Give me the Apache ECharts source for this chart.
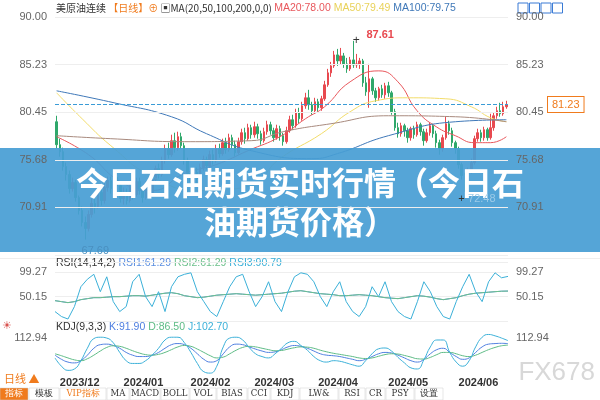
<!DOCTYPE html>
<html><head><meta charset="utf-8">
<script src="https://cdn.jsdelivr.net/npm/echarts@6/dist/echarts.min.js"></script>
<style>html,body{margin:0;padding:0;background:#fff}#c{width:600px;height:400px}</style>
</head><body><div id="c"></div>
<script>
// ---- data ----
const priceTicks = [70.91, 75.68, 80.45, 85.23, 90.00];
const holidays = ['2023-12-25','2024-01-01','2024-01-15','2024-02-19','2024-03-29','2024-05-27','2024-06-19'];
// [open, close, low, high]
const ohlc = [
[79.5,77.2,76.8,80.1],[77.2,76.5,76.0,77.8],[76.5,75.0,74.6,76.9],[75.0,74.2,73.6,75.4],[74.2,72.8,72.3,74.6],
[72.8,73.4,72.5,73.9],[73.4,71.9,71.5,73.7],[71.9,70.6,70.2,72.1],[70.6,69.4,69.0,71.0],[69.4,68.8,67.69,70.0],
[68.8,70.2,68.5,70.6],[70.2,71.3,69.9,71.8],[71.3,71.0,70.3,71.9],[71.0,72.4,70.8,72.9],[72.4,71.6,71.1,72.8],
[71.6,72.9,71.3,73.4],[72.9,73.6,72.5,74.0],[73.6,72.8,72.3,74.0],[72.8,73.9,72.6,74.3],[73.9,73.1,72.7,74.5],
[73.1,71.8,71.4,73.4],[71.8,72.4,71.2,72.9],[72.4,71.6,71.2,72.8],[71.6,72.9,71.4,73.3],[72.9,72.2,71.7,73.4],
[72.2,73.5,72.0,73.9],[73.5,72.6,72.2,73.9],[72.6,71.9,71.4,73.0],[71.9,73.1,71.7,73.5],[73.1,72.4,72.0,73.6],
[72.4,73.7,72.2,74.1],[73.7,74.8,73.4,75.1],[74.8,74.2,73.8,75.3],[74.2,75.6,74.0,76.0],[75.6,76.8,75.3,77.2],
[76.8,76.2,75.8,77.4],[76.2,77.6,76.0,78.2],[77.6,76.9,76.4,78.4],[76.9,78.0,76.6,78.5],[78.0,77.1,76.8,78.4],
[77.1,75.6,75.2,77.4],[75.6,74.3,73.9,75.9],[74.3,73.5,73.0,74.6],[73.5,74.4,73.2,74.8],[74.4,73.8,73.3,74.9],
[73.8,74.9,73.6,75.3],[74.9,75.7,74.6,76.1],[75.7,75.1,74.7,76.0],[75.1,76.2,74.9,76.6],[76.2,75.6,75.2,76.7],
[75.6,76.8,75.4,77.2],[76.8,76.3,75.9,77.3],[76.3,77.4,76.1,77.8],[77.4,76.7,76.3,77.9],[76.7,77.9,76.5,78.3],
[77.9,77.2,76.8,78.2],[77.2,76.4,76.0,77.6],[76.4,77.5,76.2,77.9],[77.5,78.4,77.2,78.8],[78.4,77.8,77.3,78.9],
[77.8,78.9,77.6,79.3],[78.9,78.2,77.8,79.2],[78.2,79.0,77.9,79.5],[79.0,78.3,77.8,79.3],[78.3,77.6,77.2,78.6],
[77.6,78.5,77.4,78.9],[78.5,79.2,78.2,79.6],[79.2,78.6,78.2,79.5],[78.6,77.9,77.5,78.9],[77.9,78.8,77.7,79.2],
[78.8,78.1,77.6,79.1],[78.1,77.5,77.1,78.4],[77.5,78.6,77.3,79.0],[78.6,79.7,78.4,80.1],[79.7,79.1,78.7,80.2],
[79.1,80.4,78.9,80.8],[80.4,79.8,79.3,80.9],[79.8,81.1,79.6,81.5],[81.1,81.9,80.8,82.4],[81.9,81.2,80.7,82.7],
[81.2,80.6,80.2,81.5],[80.6,81.5,80.3,81.9],[81.5,80.9,80.5,81.8],[80.9,81.8,80.6,82.1],[81.8,83.2,81.6,83.6],
[83.2,84.4,83.0,84.8],[84.4,85.1,84.0,85.5],[85.1,86.2,84.9,86.6],[86.2,85.6,85.1,86.8],[85.6,86.1,85.2,86.9],
[86.1,85.3,84.9,86.4],[85.3,84.8,84.4,85.9],[84.8,85.7,84.6,86.0],[85.7,85.2,84.9,87.61],[85.2,85.3,84.9,86.3],
[85.3,85.6,84.8,85.9],[85.6,83.4,83.0,85.8],[83.4,82.5,82.1,84.0],[82.5,83.8,80.9,85.3],[83.8,82.6,82.2,84.0],
[82.6,81.9,81.5,82.9],[81.9,82.8,81.6,83.0],[82.8,82.2,81.9,83.2],[82.2,83.1,81.8,83.4],[83.1,82.4,82.0,83.5],
[82.4,80.5,80.2,82.6],[80.5,78.9,78.6,80.8],[78.9,78.3,77.9,79.4],[78.3,79.1,78.0,79.4],[79.1,78.6,78.0,79.3],
[78.6,77.9,77.4,78.9],[77.9,78.8,77.6,79.0],[78.8,78.2,77.8,79.1],[78.2,79.2,78.0,79.5],[79.2,78.5,78.1,79.4],
[78.5,77.6,77.1,78.8],[77.6,78.4,77.4,78.8],[78.4,79.1,78.1,79.4],[79.1,78.3,77.9,79.3],[78.3,77.4,76.9,78.6],
[77.4,76.8,76.2,77.7],[76.8,77.9,76.5,78.2],[77.9,79.3,77.7,80.0],[79.3,78.6,78.2,79.6],[78.6,77.4,77.0,78.9],
[77.4,76.8,76.3,77.6],[76.8,75.2,74.8,77.0],[75.2,74.1,73.7,75.4],[74.1,73.3,72.48,74.4],[73.3,74.6,73.1,74.9],
[74.6,75.4,74.3,75.8],[75.4,77.8,75.2,78.1],[77.8,78.4,77.5,78.8],[78.4,77.9,77.5,78.7],[77.9,78.7,77.6,79.0],
[78.7,77.9,77.6,78.9],[77.9,78.9,77.7,80.3],[78.9,80.1,78.6,80.4],[80.1,80.6,79.8,81.0],[80.6,80.3,80.0,81.4],
[80.3,81.0,80.1,81.5],[81.0,81.23,80.8,81.6]
];
// moving averages, read at sample points [candle index, value]
const ma20 = [[0,78.0],[10,76.2],[20,73.5],[30,72.6],[40,74.3],[50,75.2],[60,76.6],[70,78.0],[78,79.8],[84,81.0],[92,83.5],[101,84.6],[107,83.5],[113,80.6],[119,79.0],[125,78.1],[131,77.4],[136,77.4],[141,78.0]];
const ma50 = [[0,82.4],[8,79.8],[17,77.1],[30,74.0],[45,72.6],[60,73.0],[70,75.8],[83,78.3],[92,80.5],[100,81.6],[110,81.9],[122,81.8],[130,81.0],[136,79.9],[141,79.5]];
const ma100 = [[0,82.6],[18,81.4],[36,80.0],[47,78.3],[61,76.6],[80,75.8],[88,76.3],[104,78.1],[125,79.5],[141,79.7]];
const ma200 = [[0,78.1],[17,77.8],[40,77.5],[61,77.6],[71,78.5],[86,79.3],[104,80.1],[125,80.0],[141,79.5]];
const rsi2 = [42,40,38,40,44,46,48,48,49,50,50,51,52,52,51,53,55,57,58,56,52,50,48,49,51,53,54,55,56,55,54,53,54,55,56,57,59,61,62,60,58,56,55,54,52,52,53,54,53,52,50,48,47,46,48,50,52,51,49,46,44,46,48,52,55,57,58,59,60,61,61.29];
const rsi3 = [20,10,5,30,70,85,95,60,90,40,20,30,80,95,50,30,60,20,70,90,95,98,60,40,20,10,40,70,90,95,60,30,50,80,40,20,60,90,98,95,80,50,30,60,80,40,20,10,30,70,50,80,40,20,10,5,40,80,60,30,10,5,40,70,95,60,40,80,98,88,90.79];
const kK = [50,35,25,22,30,50,75,88,90,85,75,60,50,45,45,50,60,75,88,92,88,75,55,35,25,30,55,80,90,88,80,72,65,60,62,70,80,85,82,75,65,55,50,48,45,40,35,30,35,45,55,60,58,50,40,30,25,35,55,70,75,60,45,35,40,60,80,90,92,93,91.9];
const kD = [55,48,40,33,30,37,50,65,78,84,82,75,66,58,52,50,53,60,70,80,85,82,72,60,48,40,43,55,68,78,82,80,75,70,66,67,72,77,80,79,75,68,62,57,53,49,45,40,38,40,46,52,55,54,49,43,37,36,42,52,60,60,55,48,45,50,60,70,78,84,86.5];
const kJ = [40,10,-5,0,30,75,110,115,112,95,60,30,20,20,30,50,75,105,115,115,95,60,20,-10,-15,10,80,112,115,105,78,55,45,40,55,75,95,100,85,68,45,30,25,30,28,22,15,10,30,55,73,76,65,42,22,4,0,33,80,105,105,60,25,10,30,80,115,125,120,112,102.7];
const toolbar = ['指标','模板','VIP指标','MA','MACD','BOLL','VOL','BIAS','CCI','KDJ','LW&','RSI','CR','PSY','设置'];
const toolbarW = [28,30,46,22,30,28,26,30,22,28,38,26,19,28,28];

// trading dates
const dates = [];
{ let d = new Date(Date.UTC(2023,10,30));
  while (dates.length < ohlc.length) {
    const wd = d.getUTCDay(); const s = d.toISOString().slice(0,10);
    if (wd !== 0 && wd !== 6 && holidays.indexOf(s) < 0) dates.push(s);
    d = new Date(d.getTime() + 86400000);
  } }
const idx = Array.from({length: rsi2.length}, (_, i) => i);
const monthStart = dates.map((s, i) => i > 0 && s.slice(5,7) !== dates[i-1].slice(5,7));

const chart = echarts.init(document.getElementById('c'));
const font = 'Liberation Sans, Arial, sans-serif';
const L = 55, R = 92;
function nearestLabel(v, arr){ let b = arr[0]; arr.forEach(a => { if (Math.abs(a - v) < Math.abs(b - v)) b = a; }); return Math.abs(b - v) < 0.05 ? b.toFixed(2) : ''; }
const priceAxisLabel = { color:'#666', fontSize:11, fontFamily:font, formatter: v => nearestLabel(v, priceTicks) };
const maLine = (name, data, color) => ({ name, type:'line', data, xAxisIndex:0, yAxisIndex:0, smooth:true, showSymbol:false, symbol:'none', lineStyle:{ color, width:1 }, silent:true, z:3 });

// toolbar graphics
const tb = []; let tx = 0;
toolbar.forEach((t, i) => {
  const w = toolbarW[i];
  tb.push({ type:'rect', shape:{ x:tx, y:388, width:w, height:12 }, style:{ fill: i===0 ? '#f07b1d' : '#fff', stroke:'#ccc', lineWidth:0.5 } });
  tb.push({ type:'text', x:tx + w/2, y:394, style:{ text:t, fill: i===0 ? '#fff' : (i===2 ? '#f07b1d' : '#333'), font:'8.5px "DejaVu Serif", serif', align:'center', verticalAlign:'middle' } });
  tx += w + 1;
});

chart.setOption({
  animation:false,
  grid:[
    { left:L, right:R, top:17, height:238 },
    { left:L, right:R, top:262, height:59 },
    { left:L, right:R, top:324, height:69 },
    { left:L, right:R, top:372, height:1 }
  ],
  xAxis:[
    { type:'category', data:dates, gridIndex:0, show:false, boundaryGap:true },
    { type:'category', data:idx, gridIndex:1, show:false, boundaryGap:false },
    { type:'category', data:idx, gridIndex:2, show:false, boundaryGap:false },
    { type:'category', data:dates, gridIndex:3, boundaryGap:true, axisLine:{show:false}, axisTick:{show:false},
      axisLabel:{ interval:(i) => monthStart[i] || i===1, formatter: v => v.slice(0,7).replace('-','/'), color:'#333', fontSize:11, fontWeight:'bold', fontFamily:font, align:'left', margin:4 } }
  ],
  yAxis:[
    { type:'value', gridIndex:0, min:66.14, max:90, interval:4.77, position:'left', axisLine:{show:false}, axisTick:{show:false}, z:20,
      splitLine:{ lineStyle:{ color:'#eee' } }, axisLabel:priceAxisLabel },
    { type:'value', gridIndex:1, min:1.03, max:119.77, interval:49.12, axisLine:{show:false}, axisTick:{show:false},
      splitLine:{ lineStyle:{ color:'#eee' } }, axisLabel:{ showMaxLabel:false, showMinLabel:false, color:'#666', fontSize:11, fontFamily:font, formatter:v=>v.toFixed(2) } },
    { type:'value', gridIndex:2, min:-87.06, max:162.94, interval:50, axisLine:{show:false}, axisTick:{show:false},
      splitLine:{ show:false }, axisLabel:{ color:'#666', fontSize:11, fontFamily:font, formatter:v=>Math.abs(v-112.94)<0.01?'112.94':'' } },
    { type:'value', gridIndex:3, show:false },
    { type:'value', gridIndex:0, min:66.14, max:90, interval:4.77, position:'right', axisLine:{show:false}, axisTick:{show:false}, splitLine:{show:false}, z:20, axisLabel:priceAxisLabel },
    { type:'value', gridIndex:1, min:1.03, max:119.77, interval:49.12, position:'right', axisLine:{show:false}, axisTick:{show:false}, splitLine:{show:false},
      axisLabel:{ showMaxLabel:false, showMinLabel:false, color:'#666', fontSize:11, fontFamily:font, formatter:v=>v.toFixed(2) } },
    { type:'value', gridIndex:2, min:-87.06, max:162.94, interval:50, position:'right', axisLine:{show:false}, axisTick:{show:false}, splitLine:{show:false},
      axisLabel:{ color:'#666', fontSize:11, fontFamily:font, formatter:v=>Math.abs(v-112.94)<0.01?'112.94':'' } }
  ],
  series:[
    { type:'candlestick', data:ohlc, xAxisIndex:0, yAxisIndex:0, barWidth:2, z:2,
      itemStyle:{ color:'#e8494f', color0:'#2fa86b', borderColor:'#e8494f', borderColor0:'#2fa86b', borderWidth:1 },
      markLine:{ symbol:'none', silent:true, data:[{ yAxis:81.23 }], lineStyle:{ color:'#3a9bd6', type:'dashed', width:1 },
        label:{ position:'end', distance:40, formatter:'81.23', color:'#f07b1d', fontSize:11, fontFamily:font, borderColor:'#f07b1d', borderWidth:1, padding:[2,4], backgroundColor:'#fff' } },
      markPoint:{ symbol:'circle', symbolSize:1, silent:true, z:30, itemStyle:{ color:'rgba(0,0,0,0)' }, data:[
        { coord:[93, 87.61], label:{ show:true, position:'right', formatter:'{p|+}  {v|87.61}', rich:{ p:{ color:'#333', fontSize:12 }, v:{ color:'#e8494f', fontSize:11, fontWeight:'bold', padding:[0,0,12,0] } }, offset:[-6,0] } },
        { coord:[9, 67.69], label:{ show:true, position:'bottom', formatter:'{v|67.69}', rich:{ v:{ color:'#4a90c0', fontSize:11, padding:[0,0,0,20] } } } },
        { coord:[128, 72.48], label:{ show:true, position:'bottom', formatter:'{p|+} {v|72.48}', rich:{ p:{ color:'#333', fontSize:11 }, v:{ color:'#9ccbe8', fontSize:11 } }, offset:[12,-4] } }
      ] } },
    maLine('MA20', ma20, '#e8575c'),
    maLine('MA50', ma50, '#f2dc6a'),
    maLine('MA100', ma100, '#3f78b8'),
    maLine('MA200', ma200, '#a88a7e'),
    { type:'line', data:rsi2, xAxisIndex:1, yAxisIndex:1, showSymbol:false, lineStyle:{ color:'#5b8fe0', width:1 } },
    { type:'line', data:rsi2, xAxisIndex:1, yAxisIndex:1, showSymbol:false, lineStyle:{ color:'#6cc08b', width:1 } },
    { type:'line', data:rsi3, xAxisIndex:1, yAxisIndex:1, showSymbol:false, lineStyle:{ color:'#3bb0d8', width:1 } },
    { type:'line', data:kK, xAxisIndex:2, yAxisIndex:2, smooth:true, showSymbol:false, lineStyle:{ color:'#4f7fe0', width:1 } },
    { type:'line', data:kD, xAxisIndex:2, yAxisIndex:2, smooth:true, showSymbol:false, lineStyle:{ color:'#5dbb85', width:1 } },
    { type:'line', data:kJ, xAxisIndex:2, yAxisIndex:2, smooth:true, showSymbol:false, lineStyle:{ color:'#3bb0d8', width:1 } }
  ],
  graphic:[
    { type:'text', x:56, y:3, style:{ text:'{a|美原油连续}{o| 【日线】⊕ }{a|▣MA(20,50,100,200,0,0) }{r|MA20:78.00 }{y|MA50:79.49 }{b|MA100:79.75}',
      rich:{ a:{ fill:'#333', fontSize:10, fontFamily:'Noto Sans CJK SC' }, o:{ fill:'#f07b1d', fontSize:10, fontFamily:'Noto Sans CJK SC' },
        r:{ fill:'#e8575c', fontSize:10.5, fontFamily:font }, y:{ fill:'#e9d25a', fontSize:10.5, fontFamily:font }, b:{ fill:'#3f78b8', fontSize:10.5, fontFamily:font } } } },
    { type:'group', children:[0,1,2,3].map(k => ({ type:'rect', shape:{ x:518 + k*11.5, y:3, width:10, height:10 }, style:{ fill:'#fff', stroke:'#3a7bd5', lineWidth:1 } })) },
    { type:'rect', shape:{ x:0, y:258, width:600, height:0.5 }, style:{ fill:'#ddd' } },
    { type:'text', x:56, y:258, style:{ text:'{a|RSI(14,14,2) }{b|RSI1:61.29 }{g|RSI2:61.29 }{c|RSI3:90.79}',
      rich:{ a:{ fill:'#333', fontSize:10.5, fontFamily:font }, b:{ fill:'#5b8fe0', fontSize:10.5, fontFamily:font }, g:{ fill:'#6cc08b', fontSize:10.5, fontFamily:font }, c:{ fill:'#3bb0d8', fontSize:10.5, fontFamily:font } } } },
    { type:'text', x:56, y:322, style:{ text:'{a|KDJ(9,3,3) }{b|K:91.90 }{g|D:86.50 }{c|J:102.70}',
      rich:{ a:{ fill:'#333', fontSize:10.5, fontFamily:font }, b:{ fill:'#4f7fe0', fontSize:10.5, fontFamily:font }, g:{ fill:'#5dbb85', fontSize:10.5, fontFamily:font }, c:{ fill:'#3bb0d8', fontSize:10.5, fontFamily:font } } } },
    { type:'text', x:2, y:320, style:{ text:'☀', fill:'#d9534f', font:'11px sans-serif' } },
    { type:'text', x:4, y:373, style:{ text:'日线 ▲', fill:'#f07b1d', font:'11px "Noto Sans CJK SC"' } },
    { type:'text', x:595, y:360, style:{ text:'FX678', fill:'#d8d8d8', font:'26px "Liberation Sans"', align:'right' }, z:5 },
    { type:'rect', shape:{ x:0, y:148, width:600, height:104 }, style:{ fill:'rgba(72,158,212,0.93)' }, z:10 },
    { type:'text', x:300, y:183, style:{ text:'今日石油期货实时行情（今日石', fill:'#fff', font:'bold 32px "Noto Sans CJK SC"', align:'center', verticalAlign:'middle' }, z:11 },
    { type:'text', x:300, y:222, style:{ text:'油期货价格）', fill:'#fff', font:'bold 32px "Noto Sans CJK SC"', align:'center', verticalAlign:'middle' }, z:11 },
    { type:'group', children: tb, z:6 }
  ]
});
</script></body></html>
